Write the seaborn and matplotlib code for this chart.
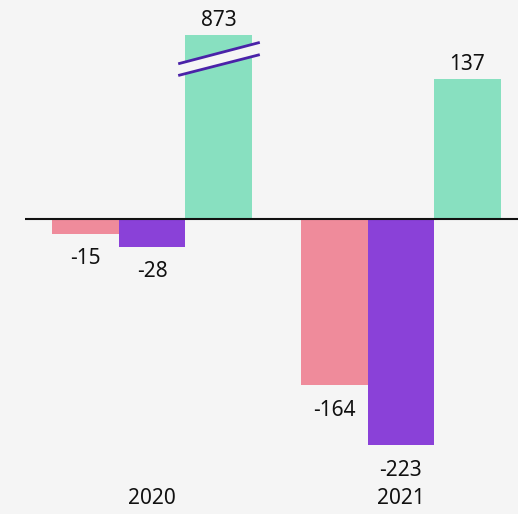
import matplotlib
matplotlib.use("Agg")
import matplotlib.pyplot as plt
import seaborn as sns
import pandas as pd

years = ["2020", "2021"]
series = ["A", "B", "C"]
values_a = [-15, -164]
values_b = [-28, -223]
values_c = [873, 137]
colors = ["#ef8b9b", "#8a41d8", "#88e0c0"]
bg = "#f5f5f5"
cap = 180  # display cap for the broken bar

rows = []
for s, vals in zip(series, [values_a, values_b, values_c]):
    for y, v in zip(years, vals):
        rows.append({"year": y, "series": s, "value": v, "display": min(v, cap)})
df = pd.DataFrame(rows)

sns.set_theme(style="white")
plt.rcParams["font.family"] = ["Noto Sans", "DejaVu Sans"]

fig = plt.figure(figsize=(5.18, 5.14), dpi=100, facecolor=bg)
ax = fig.add_axes([25 / 518, 39 / 514, 493 / 518, 445 / 514])
ax.set_facecolor(bg)

sns.barplot(data=df, x="year", y="display", hue="series", palette=colors,
            hue_order=series, order=years, width=0.8, ax=ax, legend=False,
            saturation=1, errorbar=None, linewidth=0, edgecolor="none")

ax.set_xlim(-0.51, 1.47)
ax.set_ylim(-252.0, 185.2)
ax.axhline(0, color="#111111", lw=1.5, zorder=5)
for sp in ax.spines.values():
    sp.set_visible(False)
ax.set_yticks([])
ax.set_xlabel("")
ax.set_ylabel("")
ax.tick_params(axis="x", length=0, pad=9, labelsize=15, colors="#111111")

bw = 0.8 / 3
for i, (s, vals) in enumerate(zip(series, [values_a, values_b, values_c])):
    for j, v in enumerate(vals):
        x = j + (i - 1) * bw
        d = min(v, cap)
        if v < 0:
            ax.text(x, d - 14, f"{v}", ha="center", va="top", fontsize=15, color="#111111")
        else:
            ax.text(x, d + 4, f"{v}", ha="center", va="bottom", fontsize=15, color="#111111")
        if v > cap:
            x0, x1 = x - bw / 2 - 0.028, x + bw / 2 + 0.033
            ax.fill([x0, x1, x1, x0], [152, 173, 161, 140.5], color=bg, zorder=6, lw=0)
            ax.plot([x0, x1], [152, 173], color="#4a22a8", lw=2, zorder=7, solid_capstyle="butt")
            ax.plot([x0, x1], [140.5, 161], color="#4a22a8", lw=2, zorder=7, solid_capstyle="butt")

fig.savefig("out.png", dpi=100, facecolor=bg)
